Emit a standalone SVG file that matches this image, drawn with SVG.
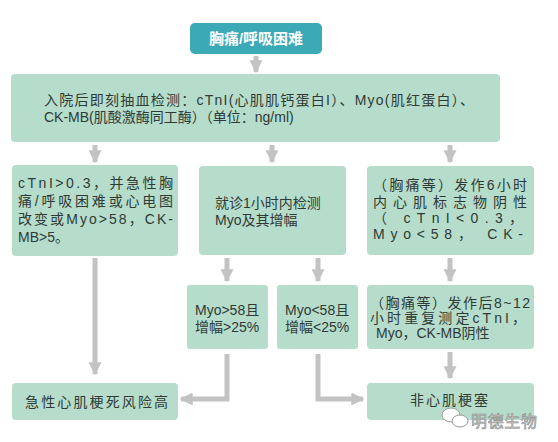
<svg xmlns="http://www.w3.org/2000/svg" width="558" height="442" viewBox="0 0 558 442">
<style>
.box{fill:#b6ddcb;}
.t{font-family:"Liberation Sans","Noto Sans CJK SC",sans-serif;font-size:14px;fill:#2f3a36;}
.h{font-family:"Liberation Sans","Noto Sans CJK SC",sans-serif;font-size:15px;font-weight:bold;fill:#ffffff;}
.c{fill:none;stroke:#c3c3c3;stroke-width:5;}
.wm{font-family:"Noto Sans CJK SC",sans-serif;font-size:16px;fill:#d9d9d9;stroke:#8c8c8c;stroke-width:0.6;}
</style>
<defs>
<marker id="ah" viewBox="0 0 10 10" refX="9" refY="5" markerWidth="2.6" markerHeight="2.6" orient="auto" markerUnits="strokeWidth">
<path d="M0,0 L10,5 L0,10 Z" fill="#c3c3c3"/>
</marker>
</defs>
<rect width="558" height="442" fill="#ffffff"/>
<g id="connectors">
<path class="c" d="M256,56 V72" marker-end="url(#ah)"/>
<path class="c" d="M95,145 V162" marker-end="url(#ah)"/>
<path class="c" d="M272,145 V162" marker-end="url(#ah)"/>
<path class="c" d="M450,145 V162" marker-end="url(#ah)"/>
<path class="c" d="M227,258 V281" marker-end="url(#ah)"/>
<path class="c" d="M318,258 V281" marker-end="url(#ah)"/>
<path class="c" d="M450,258 V281" marker-end="url(#ah)"/>
<path class="c" d="M95,258 V374" marker-end="url(#ah)"/>
<path class="c" d="M227,354 V399 H181" marker-end="url(#ah)"/>
<path class="c" d="M318,354 V399 H363" marker-end="url(#ah)"/>
<path class="c" d="M450,352 V378" marker-end="url(#ah)"/>
</g>
<g id="n0">
<rect x="190" y="23" width="132" height="31" rx="5" fill="#3ba9b6"/>
<text class="h" x="256" y="44" text-anchor="middle">胸痛/呼吸困难</text>
</g>
<g id="n1">
<rect class="box" x="11" y="74" width="489" height="68" rx="4"/>
<text class="t" x="44" y="105" textLength="430" lengthAdjust="spacing">入院后即刻抽血检测：cTnI(心肌肌钙蛋白I）、Myo(肌红蛋白）、</text>
<text class="t" x="44" y="122">CK-MB(肌酸激酶同工酶）（单位：ng/ml)</text>
</g>
<g id="n2">
<rect class="box" x="12" y="165" width="166" height="91" rx="4"/>
<text class="t" x="18" y="188" textLength="155" lengthAdjust="spacing">cTnI&gt;0.3，并急性胸</text>
<text class="t" x="18" y="206" textLength="155" lengthAdjust="spacing">痛/呼吸困难或心电图</text>
<text class="t" x="18" y="224" textLength="155" lengthAdjust="spacing">改变或Myo&gt;58，CK-</text>
<text class="t" x="18" y="242">MB&gt;5。</text>
</g>
<g id="n3">
<rect class="box" x="199" y="166" width="147" height="89" rx="4"/>
<text class="t" x="215" y="208">就诊1小时内检测</text>
<text class="t" x="215" y="225">Myo及其增幅</text>
</g>
<g id="n4">
<rect class="box" x="367" y="166" width="167" height="89" rx="4"/>
<text class="t" x="373" y="190" textLength="154" lengthAdjust="spacing">（胸痛等）发作6小时</text>
<text class="t" x="373" y="207" textLength="154" lengthAdjust="spacing">内心肌标志物阴性</text>
<text class="t" x="373" y="223" textLength="150" lengthAdjust="spacing">（ cTnI&lt;0.3，</text>
<text class="t" x="373" y="239" textLength="150" lengthAdjust="spacing">Myo&lt;58， CK-</text>
</g>
<g id="n5">
<rect class="box" x="187" y="285" width="81" height="64" rx="3"/>
<text class="t" x="195" y="315">Myo&gt;58且</text>
<text class="t" x="195" y="332">增幅&gt;25%</text>
</g>
<g id="n6">
<rect class="box" x="277" y="285" width="81" height="64" rx="3"/>
<text class="t" x="285" y="315">Myo&lt;58且</text>
<text class="t" x="285" y="332">增幅&lt;25%</text>
</g>
<g id="n7">
<rect class="box" x="367" y="285" width="167" height="64" rx="4"/>
<text class="t" x="370" y="308" textLength="160" lengthAdjust="spacing">（胸痛等）发作后8~12</text>
<text class="t" x="370" y="323" textLength="156" lengthAdjust="spacing">小时重复测定cTnI，</text>
<text class="t" x="376" y="338">Myo，CK-MB阴性</text>
</g>
<g id="n8">
<rect class="box" x="12" y="383" width="166" height="37" rx="4"/>
<text class="t" x="25" y="407" textLength="143" lengthAdjust="spacing">急性心肌梗死风险高</text>
</g>
<g id="n9">
<rect class="box" x="367" y="383" width="167" height="37" rx="4"/>
<text class="t" x="410" y="405" textLength="78" lengthAdjust="spacing">非心肌梗塞</text>
</g>
<g id="watermark">
<ellipse cx="451" cy="415" rx="9" ry="7" fill="#ffffff" stroke="#9a9a9a" stroke-width="1"/>
<ellipse cx="460" cy="421" rx="8" ry="6" fill="#ffffff" stroke="#9a9a9a" stroke-width="1"/>
<text class="wm" x="471" y="427" textLength="66" lengthAdjust="spacing">明德生物</text>
</g>
</svg>
